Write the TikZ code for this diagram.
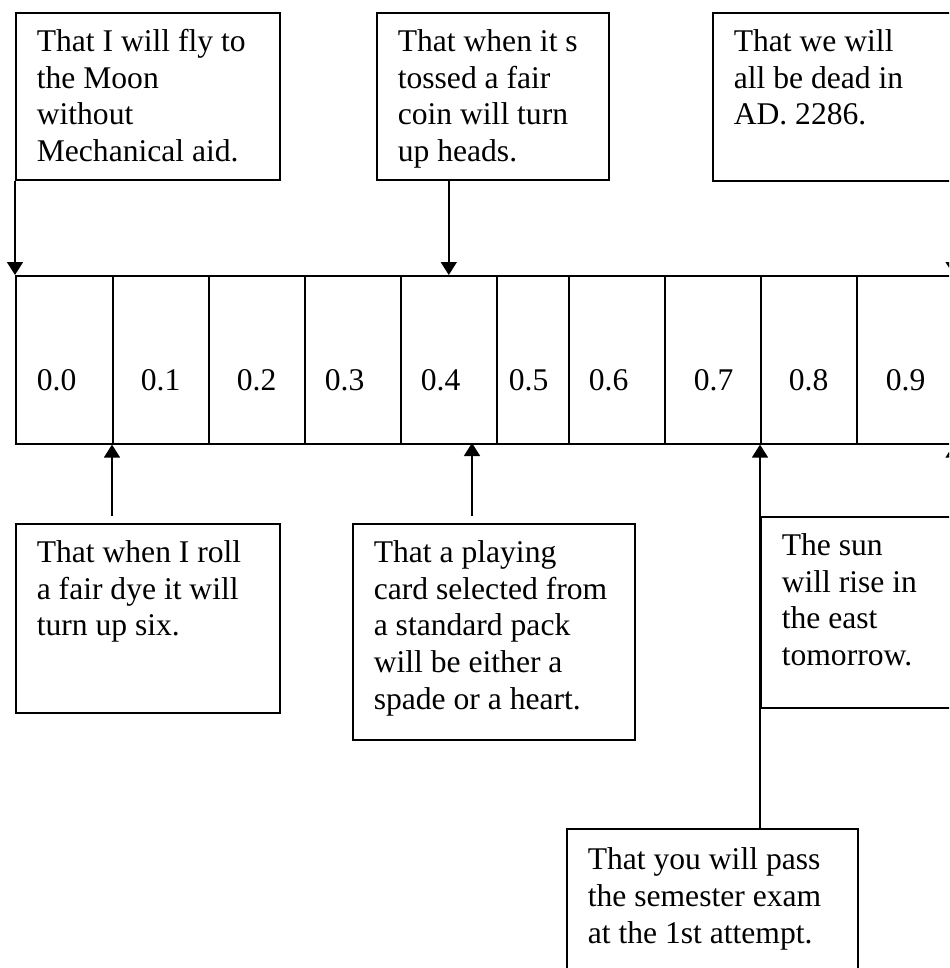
\documentclass[tikz,border=0pt]{standalone}
\usepackage{fontspec}
\setmainfont{Liberation Serif}
\usetikzlibrary{arrows.meta}

\begin{document}
\begin{tikzpicture}[x=.5pt, y=-.5pt,
  box/.style={draw, line width=.8pt, anchor=north west, inner xsep=10.5pt,
    inner ysep=0pt, align=flush left, text height=19.25pt,
    font=\fontsize{15.8pt}{18.4pt}\selectfont},
  cell/.style={draw, line width=.8pt, anchor=north west, inner sep=0pt,
    align=flush left, text height=57.5pt, text depth=26.5pt,
    font=\fontsize{15.8pt}{18.4pt}\selectfont},
  arr/.style={-{Triangle[length=6.5pt,width=8pt]}, line width=.8pt}]
% Page
\useasboundingbox (0,0) rectangle (949,968);
\clip (0,0) rectangle (949,968);
% Scale
\foreach \v/\l/\w/\o [count=\i from 0] in {0.0/15/48.5/10.5, 0.1/112/48/14,
    0.2/208/48/14, 0.3/304/48/10, 0.4/400/48/10, 0.5/496/36/6, 0.6/568/48/10,
    0.7/664/48/14.5, 0.8/760/48/14, 0.9/856/48/14.5}
  \node[cell, text width=\w pt] (c\i) at (\l,275) {\hspace*{\o pt}\v};
\coordinate (cardtip) at (472,443);
% Events above the scale
\node[box, text width=111pt, text depth=64.25pt] (fly) at (15,12)
  {That I will fly to\\the Moon\\without\\Mechanical aid.};
\node[box, text width=95pt, text depth=64.25pt] (coin) at (376,12)
  {That when it s\\tossed a fair\\coin will turn\\up heads.};
\node[box, text width=119pt, text depth=64.75pt] (dead) at (712,12)
  {That we will\\all be dead in\\AD. 2286.};
% Events below the scale
\node[box, text width=111pt, text depth=75.25pt] (roll) at (15,523)
  {That when I roll\\a fair dye it will\\turn up six.};
\node[box, text width=120pt, text depth=88.75pt] (card) at (352,523)
  {That a playing\\card selected from\\a standard pack\\will be either a\\spade or a heart.};
\node[box, text width=119pt, text depth=76.25pt] (sun) at (760,516)
  {The sun\\will rise in\\the east\\tomorrow.};
\node[box, text width=124.5pt, text height=20.5pt, text depth=65pt] (exam) at (566,828)
  {That you will pass\\the semester exam\\at the 1st attempt.};
% Arrows
\draw[arr] (fly.south west) -- (c0.north west);
\draw[arr] (c4.north |- coin.south) -- (c4.north);
\draw[arr] (c9.north east |- dead.south) -- (c9.north east);
\draw[arr, shorten <=3.5pt] (c1.south west |- roll.north) -- (c1.south west);
\draw[arr, shorten <=3.5pt] (cardtip |- card.north) -- (cardtip);
\draw[arr] (c8.south west |- exam.north) -- (c8.south west);
\draw[arr] (c9.south east |- sun.north) -- (c9.south east);
\end{tikzpicture}
\end{document}
